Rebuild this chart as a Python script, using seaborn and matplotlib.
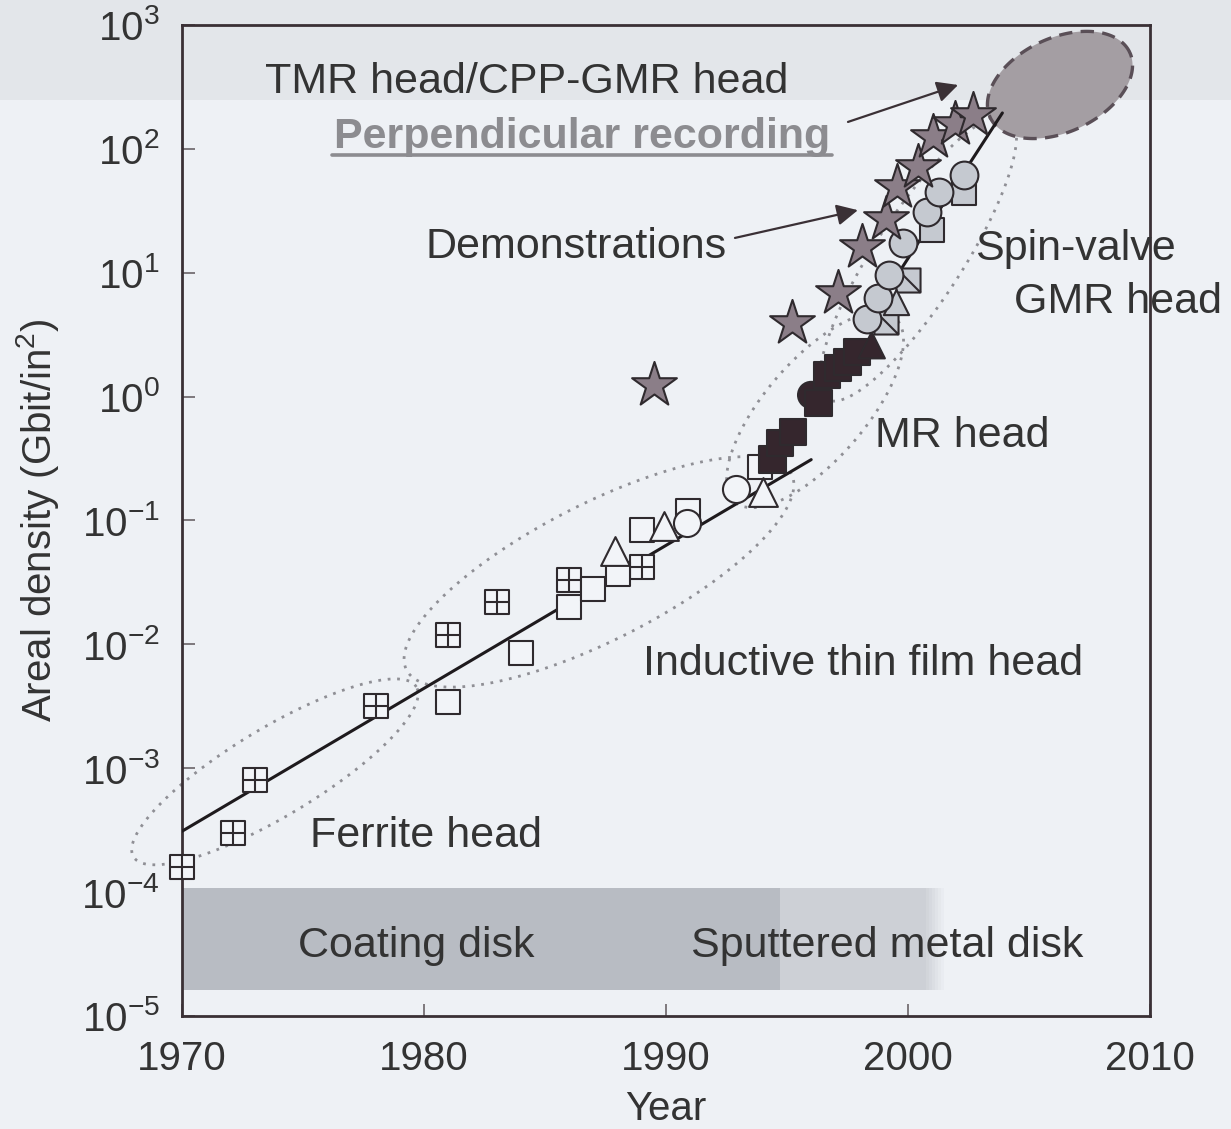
import numpy as np
import pandas as pd
import matplotlib
matplotlib.use("Agg")
import matplotlib.pyplot as plt
from matplotlib.path import Path
from matplotlib.patches import Rectangle
from matplotlib.ticker import FixedLocator, NullLocator
import seaborn as sns

# ---------------- data ----------------
# Ferrite heads (square with cross)
ferrite_year = [1970.0, 1972.1, 1973.0, 1978.0, 1981.0, 1983.0, 1986.0, 1989.0]
ferrite_density = [1.6e-4, 3.0e-4, 8.1e-4, 3.2e-3, 1.2e-2, 2.2e-2, 3.3e-2, 4.2e-2]

# Inductive thin-film heads (open squares, triangles, circles)
thin_sq_year = [1981.0, 1984.0, 1986.0, 1987.0, 1988.0, 1989.0, 1990.9, 1993.9]
thin_sq_density = [3.4e-3, 8.5e-3, 2.0e-2, 2.8e-2, 3.7e-2, 8.4e-2, 0.12, 0.27]
thin_tri_year = [1987.9, 1989.9, 1994.0]
thin_tri_density = [0.057, 0.090, 0.17]
thin_circ_year = [1990.85, 1992.9]
thin_circ_density = [0.095, 0.18]

# MR heads (filled black)
mr_year = [1994.4, 1994.7, 1995.25, 1996.0, 1996.3, 1996.65, 1997.1, 1997.5, 1997.9, 1998.5]
mr_density = [0.31, 0.42, 0.52, 1.03, 0.89, 1.5, 1.7, 1.9, 2.3, 2.6]
mr_shape = ["s", "s", "s", "o", "s", "s", "s", "s", "s", "^"]

# Spin-valve GMR heads (light gray)
gmr_circ_year = [1998.3, 1998.75, 1999.2, 1999.8, 2000.8, 2001.3, 2002.3]
gmr_circ_density = [4.2, 6.3, 9.6, 17.4, 31.0, 45.0, 61.0]
gmr_sq_year = [2001.0, 2002.3]
gmr_sq_density = [22.0, 44.0]
gmr_diag_year = [1999.1, 2000.0]
gmr_diag_density = [4.0, 8.7]
gmr_tri_year = [1999.5]
gmr_tri_density = [5.8]

# Laboratory demonstrations (stars)
demo_year = [1989.5, 1995.2, 1997.1, 1998.1, 1999.1, 1999.55, 2000.4, 2001.05, 2001.95, 2002.7]
demo_density = [1.24, 3.9, 6.9, 16.0, 27.0, 49.0, 71.0, 125.0, 160.0, 188.0]

# Growth trend lines
trend1_year = [1970.0, 1996.0]
trend1_density = [3.1e-4, 0.31]
trend2_year = [1998.4, 2003.9]
trend2_density = [4.3, 195.0]

x_ticks = [1970, 1980, 1990, 2000, 2010]
y_exponents = [-5, -4, -3, -2, -1, 0, 1, 2, 3]

# ---------------- style ----------------
sns.set_style("ticks")
plt.rcParams["font.family"] = ["Liberation Sans", "DejaVu Sans"]
plt.rcParams["mathtext.fontset"] = "custom"
plt.rcParams["mathtext.rm"] = "Liberation Sans"
plt.rcParams["mathtext.default"] = "regular"

INK = "#2f2a2e"
TEXT = "#333333"
BG = "#eef1f5"

fig = plt.figure(figsize=(12.31, 11.29), dpi=100, facecolor=BG)
fig.add_artist(Rectangle((0, 1 - 100 / 1129), 1, 100 / 1129, transform=fig.transFigure,
                         facecolor="#e3e6ea", edgecolor="none", zorder=-5))
ax = fig.add_axes([0.14785, 0.10009, 0.78635, 0.87777])
ax.set_facecolor("none")
ax.set_yscale("log")
ax.set_xlim(1970, 2010)
ax.set_ylim(1e-5, 1e3)

px_per_year = ax.bbox.width / 40.0
px_per_dec = ax.bbox.height / 8.0


def region_outline(cx, cy, a_px, b_px, angle_deg, n=200):
    """Ellipse defined in screen pixels around a (year, density) centre."""
    t = np.linspace(0, 2 * np.pi, n)
    th = np.deg2rad(angle_deg)
    dx = a_px * np.cos(t) * np.cos(th) - b_px * np.sin(t) * np.sin(th)
    dy = a_px * np.cos(t) * np.sin(th) + b_px * np.sin(t) * np.cos(th)
    xs = cx + dx / px_per_year
    ys = 10 ** (np.log10(cy) + dy / px_per_dec)
    return xs, ys


# recording-medium band
band_lo, band_hi = 1.62e-5, 1.08e-4
ax.fill_between([1970, 1994.7], band_lo, band_hi, color="#b8bcc3", lw=0, zorder=1)
ax.fill_between([1994.7, 2000.6], band_lo, band_hi, color="#cdd0d6", lw=0, zorder=1)
fade_edges = np.linspace(2000.6, 2001.6, 9)
fade_cols = np.linspace(0.0, 1.0, 8)
for (x0, x1), f in zip(zip(fade_edges[:-1], fade_edges[1:]), fade_cols):
    c0 = np.array([0xcd, 0xd0, 0xd6]) / 255
    c1 = np.array([0xee, 0xf1, 0xf5]) / 255
    ax.fill_between([x0, x1], band_lo, band_hi, color=c0 * (1 - f) + c1 * f, lw=0, zorder=1)
ax.text(1974.8, 3.0e-5, "Coating disk", fontsize=31, color=TEXT, zorder=2)
ax.text(1991.05, 3.0e-5, "Sputtered metal disk", fontsize=31, color=TEXT, zorder=2)

# dotted region outlines
dot_kw = dict(color="#8f8f95", lw=2.0, ls=(0, (1, 2.4)), zorder=2, clip_on=False)
for cx, cy, a, b, ang in [(1973.84, 9.35e-4, 165, 44, 31),
                          (1987.23, 0.0385, 216, 68, 27),
                          (1996.16, 0.78, 122, 50, 49),
                          (2000.41, 13.1, 168, 44, 57)]:
    xs, ys = region_outline(cx, cy, a, b, ang)
    ax.plot(xs, ys, **dot_kw)

# perpendicular-recording target
xs, ys = region_outline(2006.28, 328.0, 77, 47, 25)
ax.fill(xs, ys, facecolor="#a49ea3", edgecolor="#5a4f57", lw=2.4, ls=(0, (4, 2.5)), zorder=3)

# trend lines
sns.lineplot(x=trend1_year, y=trend1_density, color="#1e1a1d", lw=2.2, ax=ax, zorder=4)
sns.lineplot(x=trend2_year, y=trend2_density, color="#1e1a1d", lw=2.2, ax=ax, zorder=4)

# marker shapes
grid_square = Path([(-1, -1), (1, -1), (1, 1), (-1, 1), (-1, -1), (0, -1), (0, 1), (-1, 0), (1, 0)],
                   [Path.MOVETO, Path.LINETO, Path.LINETO, Path.LINETO, Path.CLOSEPOLY,
                    Path.MOVETO, Path.LINETO, Path.MOVETO, Path.LINETO])
diag_square = Path([(-1, -1), (1, -1), (1, 1), (-1, 1), (-1, -1), (-1, 1), (1, -1)],
                   [Path.MOVETO, Path.LINETO, Path.LINETO, Path.LINETO, Path.CLOSEPOLY,
                    Path.MOVETO, Path.LINETO])

OPEN = "#f2f4f8"
GMR = "#c5c9d0"
STAR = "#8b7e88"
MR = "#35262d"
mk = dict(ax=ax, edgecolor=INK, linewidth=1.5, clip_on=False, legend=False)

sns.scatterplot(x=ferrite_year, y=ferrite_density, marker=grid_square, s=300, color=OPEN, zorder=6, **mk)
sns.scatterplot(x=thin_sq_year, y=thin_sq_density, marker="s", s=300, color=OPEN, zorder=6, **mk)
sns.scatterplot(x=thin_tri_year, y=thin_tri_density, marker="^", s=430, color=OPEN, zorder=6, **mk)
sns.scatterplot(x=thin_circ_year, y=thin_circ_density, marker="o", s=380, color=OPEN, zorder=6, **mk)

mr_df = pd.DataFrame({"year": mr_year, "density": mr_density, "shape": mr_shape})
sns.scatterplot(data=mr_df, x="year", y="density", style="shape",
                markers={"s": "s", "o": "o", "^": "^"}, s=360, color=MR, zorder=6, **mk)

sns.scatterplot(x=gmr_sq_year, y=gmr_sq_density, marker="s", s=300, color=GMR, zorder=6, **mk)
sns.scatterplot(x=gmr_diag_year, y=gmr_diag_density, marker=diag_square, s=300, color=GMR, zorder=6, **mk)
sns.scatterplot(x=gmr_tri_year, y=gmr_tri_density, marker="^", s=330, color=GMR, zorder=6, **mk)
sns.scatterplot(x=gmr_circ_year, y=gmr_circ_density, marker="o", s=400, color=GMR, zorder=7, **mk)
sns.scatterplot(x=demo_year, y=demo_density, marker="*", s=1150, color=STAR, zorder=8, **mk)

# annotations
ax.text(1973.43, 282.0, "TMR head/CPP-GMR head", fontsize=31, color=TEXT, zorder=9)
ax.text(1986.53, 101.6, "Perpendicular recording", fontsize=31, fontweight="bold",
        color="#8c8c90", ha="center", zorder=9)
ax.plot([1976.2, 1996.85], [89.0, 89.0], color="#8c8c90", lw=2.6, zorder=9)
ax.text(1980.05, 13.2, "Demonstrations", fontsize=31, color=TEXT, zorder=9)
ax.text(2002.77, 12.7, "Spin-valve", fontsize=31, color=TEXT, zorder=9, clip_on=False)
ax.text(2004.4, 4.74, "GMR head", fontsize=31, color=TEXT, zorder=9, clip_on=False)
ax.text(1998.64, 0.393, "MR head", fontsize=31, color=TEXT, zorder=9)
ax.text(1989.05, 5.68e-3, "Inductive thin film head", fontsize=31, color=TEXT, zorder=9)
ax.text(1975.3, 2.32e-4, "Ferrite head", fontsize=31, color=TEXT, zorder=9)

arrow_kw = dict(arrowstyle="-|>", color="#3a3035", lw=1.6, mutation_scale=32, shrinkA=0, shrinkB=0)
ax.annotate("", xy=(1997.93, 32.0), xytext=(1992.85, 19.1), arrowprops=arrow_kw, zorder=9)
ax.annotate("", xy=(2002.07, 328.0), xytext=(1997.52, 165.0), arrowprops=arrow_kw, zorder=9)

# axes
for sp in ax.spines.values():
    sp.set_color("#3a3035")
    sp.set_linewidth(2.0)
    sp.set_visible(True)
ax.xaxis.set_major_locator(FixedLocator(x_ticks))
ax.set_xticklabels([str(v) for v in x_ticks])
ax.yaxis.set_major_locator(FixedLocator([10.0 ** e for e in y_exponents]))
ax.yaxis.set_minor_locator(NullLocator())
ax.set_yticklabels([r"$10^{%d}$" % e for e in y_exponents])
ax.tick_params(axis="both", which="major", direction="in", length=9, width=1.2,
               color="#6a6468", labelsize=29, labelcolor=TEXT, top=False, right=False)
ax.tick_params(axis="x", pad=17)
ax.tick_params(axis="y", pad=16)
ax.set_xlabel("Year", fontsize=29, color=TEXT, labelpad=9)
ax.set_ylabel("Areal density (Gbit/in$^2$)", fontsize=29, color=TEXT)
ax.yaxis.set_label_coords(-0.125, 0.5)

fig.savefig("out.png", dpi=100, facecolor=fig.get_facecolor())
